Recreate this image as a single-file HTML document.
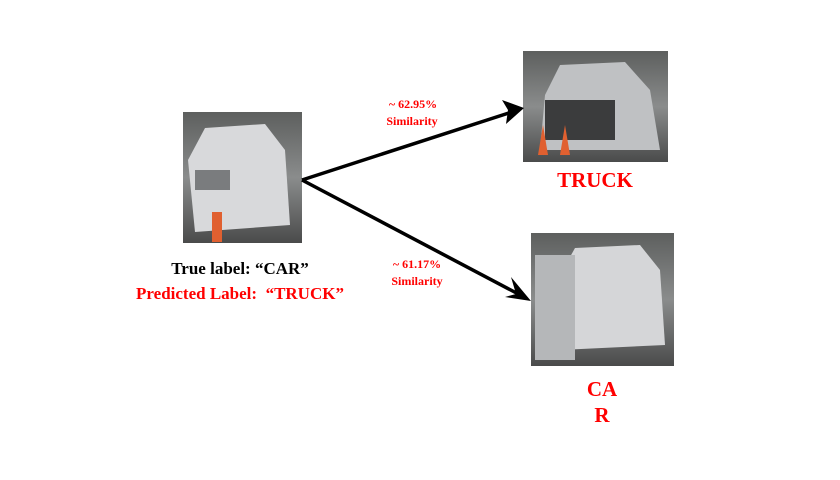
<!DOCTYPE html>
<html><head><style>
body{margin:0;width:840px;height:480px;background:#fff;position:relative;overflow:hidden;font-family:"Liberation Serif",serif;font-weight:bold}
.t{position:absolute;white-space:nowrap;transform:translateX(-50%)}
.r{color:#f00}
</style></head><body>
<svg width="840" height="480" style="position:absolute;left:0;top:0">
<defs>
<linearGradient id="g1" x1="0" y1="0" x2="0" y2="1"><stop offset="0" stop-color="#5d5f5e"/><stop offset="0.5" stop-color="#8a8c8c"/><stop offset="1" stop-color="#4a4b4b"/></linearGradient>
</defs>
<rect x="183" y="112" width="119" height="131" fill="url(#g1)"/>
<path d="M188 160 L205 128 L265 124 L285 150 L290 225 L195 232 Z" fill="#d8d9db"/>
<rect x="195" y="170" width="35" height="20" fill="#7a7c7e"/>
<rect x="212" y="212" width="10" height="30" fill="#e06030"/>
<rect x="523" y="51" width="145" height="111" fill="url(#g1)"/>
<path d="M545 95 L560 65 L625 62 L650 90 L660 150 L540 150 Z" fill="#bfc1c3"/>
<rect x="545" y="100" width="70" height="40" fill="#3b3c3d"/>
<polygon points="538,155 543,125 548,155" fill="#e06030"/>
<polygon points="560,155 565,125 570,155" fill="#e06030"/>
<rect x="531" y="233" width="143" height="133" fill="url(#g1)"/>
<path d="M560 275 L575 248 L640 245 L660 270 L665 345 L560 350 Z" fill="#d5d6d8"/>
<rect x="535" y="255" width="40" height="105" fill="#b5b7b9"/>
<line x1="302" y1="180" x2="518" y2="110" stroke="#000" stroke-width="3.5"/>
<polygon points="524,108 502,100 508,110 506,124" fill="#000"/>
<line x1="302" y1="180" x2="524" y2="297" stroke="#000" stroke-width="3.5"/>
<polygon points="531,301 505,297 516,294 511,277" fill="#000"/>
</svg>
<div class="t r" style="left:413px;top:97px;font-size:12px">~ 62.95%</div>
<div class="t r" style="left:412px;top:114px;font-size:12px">Similarity</div>
<div class="t r" style="left:417px;top:257px;font-size:12px">~ 61.17%</div>
<div class="t r" style="left:417px;top:274px;font-size:12px">Similarity</div>
<div class="t r" style="left:595px;top:168px;font-size:21px">TRUCK</div>
<div class="t r" style="left:602px;top:377px;font-size:21px">CA</div>
<div class="t r" style="left:602px;top:403px;font-size:21px">R</div>
<div class="t" style="left:240px;top:259px;font-size:17px;color:#000">True label: “CAR”</div>
<div class="t r" style="left:240px;top:284px;font-size:17px">Predicted Label:&nbsp; “TRUCK”</div>
</body></html>
